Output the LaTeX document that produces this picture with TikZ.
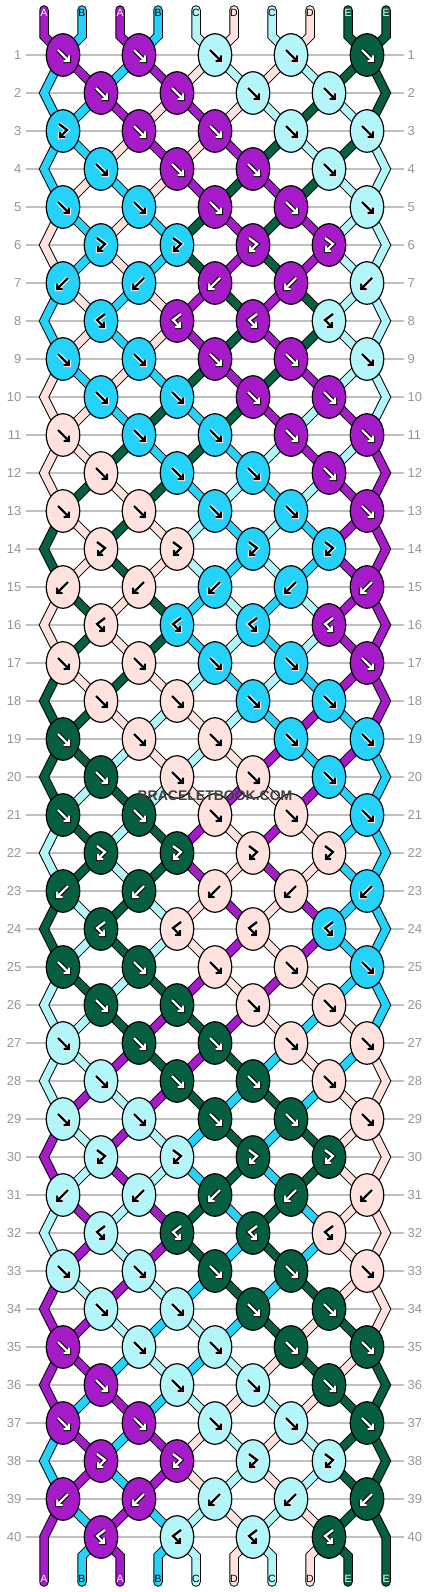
\documentclass[tikz,border=0pt]{standalone}
\usepackage{fontspec}
\setmainfont{Liberation Sans}
\usetikzlibrary{shapes.geometric}

\definecolor{thrA}{RGB}{165,27,200}
\definecolor{thrB}{RGB}{37,211,250}
\definecolor{thrC}{RGB}{178,246,250}
\definecolor{thrD}{RGB}{255,226,221}
\definecolor{thrE}{RGB}{5,95,64}
\definecolor{rowline}{RGB}{192,192,192}
\definecolor{rownum}{RGB}{150,150,150}
\definecolor{markgray}{RGB}{64,64,64}

\pgfdeclarelayer{grid}
\pgfdeclarelayer{threads}
\pgfsetlayers{grid,threads,main}

% arrow glyph inside a knot: outline first, then the arrow
\newcommand\glyph[2]{%
  \draw[glyph out, shift={(#1.center)}] #2;
  \draw[glyph in, shift={(#1.center)}] #2;}
\newcommand\glyphf[1]{\glyph{#1}{(-5,-5) -- (6,6) (0.5,6) -- (6,6) -- (6,0.5)}}
\newcommand\glyphb[1]{\glyph{#1}{(5,-5) -- (-6,6) (-0.5,6) -- (-6,6) -- (-6,0.5)}}
\newcommand\glyphF[1]{\glyph{#1}{(-4,-7) -- (4,-1) -- (-3,6) (2,6) -- (-3,6) -- (-3,1)}}
\newcommand\glyphB[1]{\glyph{#1}{(4,-7) -- (-4,-1) -- (3,6) (-2,6) -- (3,6) -- (3,1)}}

\tikzset{
  knot/.style={ellipse, draw=black, line width=1.2pt, minimum width=33.5pt, minimum height=42.5pt, inner sep=0pt},
  thread/.style={line width=1pt, double distance=7.5pt, line cap=round, line join=miter},
  glyph out/.style={line width=4.4pt, draw=\glout, line join=miter},
  glyph in/.style={line width=2.4pt, draw=\glin, line join=miter},
  numlabel/.style={font=\fontsize{13}{15}\selectfont, text=rownum, inner sep=0pt},
  endlabel/.style={font=\fontsize{10.5}{12}\selectfont, inner sep=0pt},
}

\begin{document}
\begin{tikzpicture}[x=1pt, y=-1pt]
  \useasboundingbox (0,0) rectangle (430,1592);
  \begin{pgfonlayer}{grid}
    \fill[white] (0,0) rectangle (430,1592);
  \end{pgfonlayer}
  \def\darkA{thrA}
  \def\darkE{thrE}

  % Threads A B A B C D C D E E, with their letters at both ends
  \foreach \col/\lab/\tc [count=\ps] in {thrA/A/white, thrB/B/black, thrA/A/white, thrB/B/black,
      thrC/C/black, thrD/D/black, thrC/C/black, thrD/D/black, thrE/E/white, thrE/E/white}{
    \pgfmathsetmacro\xs{6+38*\ps}
    \coordinate (ts-\ps) at (\xs,10);
    \coordinate (tb-\ps) at (\xs,36);
    \coordinate (bb-\ps) at (\xs,1556);
    \coordinate (be-\ps) at (\xs,1582);
    \node[endlabel, text=\tc] (lt-\ps) at (\xs,13) {\lab};
    \node[endlabel, text=\tc] (lb-\ps) at (\xs,1579) {\lab};
    \expandafter\xdef\csname th\ps\endcsname{\col}
    \expandafter\xdef\csname from\ps\endcsname{(ts-\ps) -- (tb-\ps)}
  }

  % Rows of knots
  \foreach \rw in {1,...,40}{
    \pgfmathtruncatemacro\odd{mod(\rw,2)}
    \pgfmathtruncatemacro\phase{mod(\rw,8)}
    \pgfmathsetmacro\yr{17+38*\rw}
    \begin{pgfonlayer}{grid}
      \draw[rowline, line width=1.2pt] (26,\yr) -- (404,\yr);
    \end{pgfonlayer}
    \node[numlabel, anchor=east] (nl-\rw) at (21.5,\yr) {\rw};
    \node[numlabel, anchor=west] (nr-\rw) at (407.5,\yr) {\rw};
    \ifnum\odd=1
      \def\nk{5}\def\xo{-13}\def\po{-1}
    \else
      \def\nk{4}\def\xo{25}\def\po{0}
      \coordinate (e-\rw-1) at (44,\yr);
      \coordinate (e-\rw-10) at (386,\yr);
    \fi
    \foreach \kn in {1,...,\nk}{
      \pgfmathsetmacro\xk{76*\kn+(\xo)}
      \pgfmathtruncatemacro\pa{2*\kn+(\po)}
      \pgfmathtruncatemacro\pb{\pa+1}
      \edef\lc{\csname th\pa\endcsname}
      \edef\rc{\csname th\pb\endcsname}
      % f forward, b backward, F forward-backward, B backward-forward
      \def\kt{f}
      \ifnum\phase=6 \def\kt{F}\fi
      \ifnum\phase=7 \def\kt{b}\fi
      \ifnum\phase=0 \def\kt{B}\fi
      \ifnum\rw=3 \ifnum\kn=1 \def\kt{F}\fi\fi
      \if f\kt \edef\kc{\lc}\fi
      \if F\kt \edef\kc{\lc}\fi
      \if b\kt \edef\kc{\rc}\fi
      \if B\kt \edef\kc{\rc}\fi
      \ifx\kc\darkA \def\glin{white}\def\glout{black}%
      \else\ifx\kc\darkE \def\glin{white}\def\glout{black}%
      \else \def\glin{black}\def\glout{white}\fi\fi
      \node[knot, fill=\kc] (k-\rw-\kn) at (\xk,\yr) {};
      \csname glyph\kt\endcsname{k-\rw-\kn}
      \begin{pgfonlayer}{threads}
        \edef\tmp{\noexpand\draw[thread, double=\lc] \csname from\pa\endcsname\space -- (k-\rw-\kn.center);}\tmp
        \edef\tmp{\noexpand\draw[thread, double=\rc] \csname from\pb\endcsname\space -- (k-\rw-\kn.center);}\tmp
      \end{pgfonlayer}
      % f and b swap the two threads
      \if f\kt \expandafter\xdef\csname th\pa\endcsname{\rc}\expandafter\xdef\csname th\pb\endcsname{\lc}\fi
      \if b\kt \expandafter\xdef\csname th\pa\endcsname{\rc}\expandafter\xdef\csname th\pb\endcsname{\lc}\fi
    }
    \foreach \ps in {1,...,10}{
      \ifnum\odd=1
        \pgfmathtruncatemacro\kk{(\ps+1)/2}
        \expandafter\xdef\csname from\ps\endcsname{(k-\rw-\kk.center)}
      \else
        \ifnum\ps=1
          \expandafter\xdef\csname from\ps\endcsname{\csname from\ps\endcsname\space -- (e-\rw-\ps)}
        \else\ifnum\ps=10
          \expandafter\xdef\csname from\ps\endcsname{\csname from\ps\endcsname\space -- (e-\rw-\ps)}
        \else
          \pgfmathtruncatemacro\kk{\ps/2}
          \expandafter\xdef\csname from\ps\endcsname{(k-\rw-\kk.center)}
        \fi\fi
      \fi
    }
  }

  % Loose ends at the bottom
  \foreach \ps in {1,...,10}{
    \edef\tmp{\noexpand\draw[thread, double=\csname th\ps\endcsname] \csname from\ps\endcsname\space -- (bb-\ps) -- (be-\ps);}
    \begin{pgfonlayer}{threads}\tmp\end{pgfonlayer}
  }

  \node[font=\bfseries\fontsize{14}{16}\selectfont, text=markgray] (mark) at (215,796) {BRACELETBOOK.COM};
\end{tikzpicture}
\end{document}
